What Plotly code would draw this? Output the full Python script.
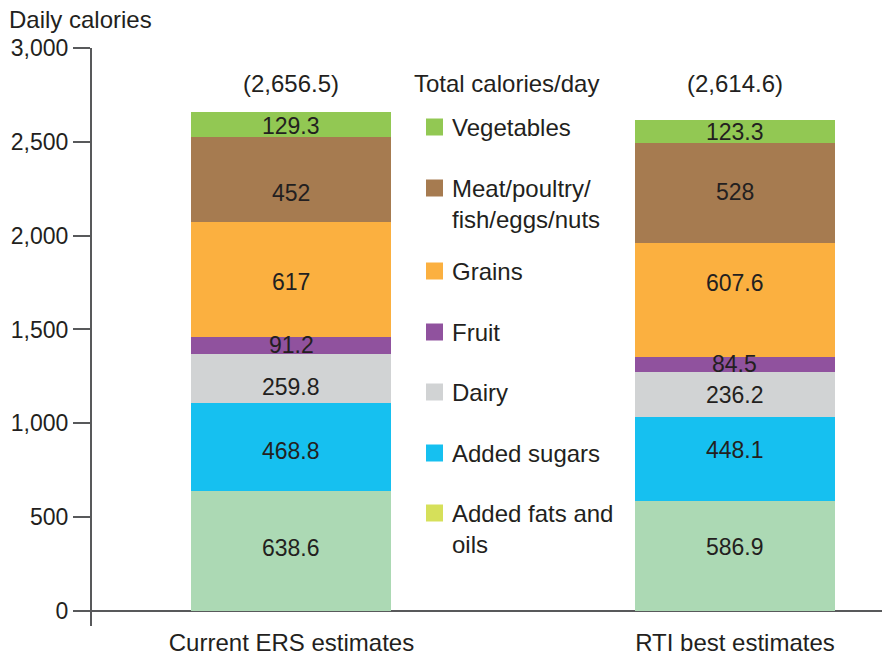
import plotly.graph_objects as go

# ---------------- data ----------------
categories = ["Current ERS estimates", "RTI best estimates"]
total_labels = ["(2,656.5)", "(2,614.6)"]

added_fats = [638.6, 586.9]
added_sugars = [468.8, 448.1]
dairy = [259.8, 236.2]
fruit = [91.2, 84.5]
grains = [617, 607.6]
meat = [452, 528]
vegetables = [129.3, 123.3]

series_names = ["Added fats and oils", "Added sugars", "Dairy", "Fruit",
                "Grains", "Meat/poultry/fish/eggs/nuts", "Vegetables"]
series_values = [added_fats, added_sugars, dairy, fruit, grains, meat, vegetables]
bar_colors = ["#acd9b4", "#16c0f0", "#d1d3d4", "#90529e", "#fbb040", "#a67b50", "#92c853"]

legend_labels = ["Vegetables", "Meat/poultry/<br>fish/eggs/nuts", "Grains", "Fruit",
                 "Dairy", "Added sugars", "Added fats and<br>oils"]
legend_colors = ["#92c853", "#a67b50", "#fbb040", "#90529e", "#d1d3d4", "#16c0f0", "#d6e05a"]

y_ticks = [0, 500, 1000, 1500, 2000, 2500, 3000]

# ---------------- styling ----------------
FONT = "Liberation Sans, Arial, Helvetica, sans-serif"
TXT = "#231f20"
AX = "#58595b"
FS = 23
FL = 24
W, H = 882, 656
L, R, T, B = 92, 0, 48, 30
PW, PH = W - L - R, H - T - B

# value-label vertical nudges (px, + = up), per series (bottom->top) per bar
label_shift = [[3, 9], [-4, 9], [-8, 0], [1, 1], [-3, 17], [-14, 1], [-1, 0]]


def px2x(px):
    return (px - L) / PW


def py2y(py):
    return (H - B - py) / PH


fig = go.Figure()
annotations = []
base = [0.0] * len(categories)
for name, vals, col, shifts in zip(series_names, series_values, bar_colors, label_shift):
    fig.add_trace(go.Bar(
        x=categories, y=vals, name=name,
        marker=dict(color=col, line=dict(width=0)),
        width=0.451, showlegend=False, hoverinfo="skip",
    ))
    for i, (cat, v) in enumerate(zip(categories, vals)):
        annotations.append(dict(text=str(v), xref="x", yref="y", x=cat, y=base[i] + v / 2,
                                yshift=shifts[i], xanchor="center", yanchor="middle",
                                showarrow=False, font=dict(family=FONT, size=FS, color=TXT)))
        base[i] += v

annotations.append(dict(text="Daily calories", xref="paper", yref="paper",
                        x=px2x(7), y=py2y(20), xanchor="left", yanchor="middle",
                        showarrow=False, font=dict(family=FONT, size=FL, color=TXT)))
for cat, lab in zip(categories, total_labels):
    annotations.append(dict(text=lab, xref="x", yref="paper", x=cat, y=py2y(84),
                            xanchor="center", yanchor="middle", showarrow=False,
                            font=dict(family=FONT, size=FL, color=TXT)))
annotations.append(dict(text="Total calories/day", xref="paper", yref="paper",
                        x=px2x(412), y=py2y(84), xanchor="left", yanchor="middle",
                        showarrow=False, font=dict(family=FONT, size=FL, color=TXT)))

legend_y = [127, 188, 271, 332, 392, 453, 513]
shapes = []
for lab, col, yc in zip(legend_labels, legend_colors, legend_y):
    shapes.append(dict(type="rect", xref="paper", yref="paper",
                       x0=px2x(426), x1=px2x(443), y0=py2y(yc + 8.5), y1=py2y(yc - 8.5),
                       fillcolor=col, line=dict(width=0)))
    annotations.append(dict(text=lab, xref="paper", yref="paper",
                            x=px2x(450), y=py2y(yc - 15), xanchor="left", yanchor="top",
                            align="left", showarrow=False,
                            font=dict(family=FONT, size=FL, color=TXT)))

fig.update_layout(
    barmode="stack",
    width=W, height=H,
    margin=dict(l=L, r=R, t=T, b=B, autoexpand=False),
    paper_bgcolor="white", plot_bgcolor="white",
    font=dict(family=FONT, size=FS, color=TXT),
    annotations=annotations, shapes=shapes,
    xaxis=dict(type="category", range=[-0.4498, 1.3315], showline=False,
               showgrid=False, zeroline=False, ticks="",
               tickfont=dict(family=FONT, size=FL, color=TXT)),
    yaxis=dict(range=[-80, 3000], tickvals=y_ticks, tickformat=",d",
               showline=True, linecolor=AX, linewidth=2,
               ticks="outside", ticklen=17, tickwidth=2, tickcolor=AX,
               showgrid=False, zeroline=True, zerolinecolor=AX, zerolinewidth=2,
               tickfont=dict(family=FONT, size=FS, color=TXT)),
)

fig.write_html("out.html", config={"displayModeBar": False},
               post_script="document.body.style.margin='0';document.body.style.overflow='hidden';")
